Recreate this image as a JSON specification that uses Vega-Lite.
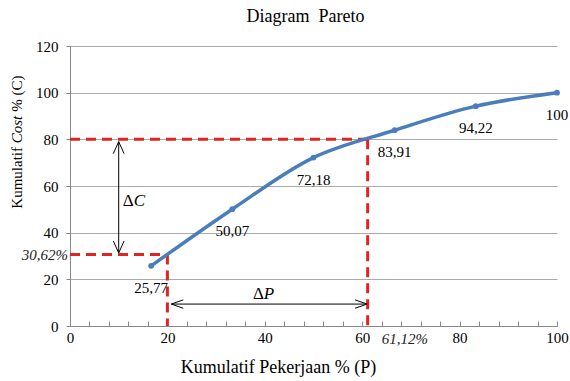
{
  "$schema": "https://vega.github.io/schema/vega-lite/v6.json",
  "width": 487,
  "height": 280,
  "autosize": {"type": "none"},
  "padding": {"left": 70, "top": 46, "right": 13, "bottom": 55},
  "background": "white",
  "title": {
    "text": "Diagram\u00a0 Pareto",
    "font": "Liberation Serif",
    "fontSize": 18,
    "fontWeight": "normal",
    "color": "black",
    "anchor": "middle",
    "dx": -8,
    "offset": 13
  },
  "resolve": {"axis": {"x": "independent", "y": "independent"}},
  "config": {
    "view": {"stroke": null},
    "font": "Liberation Serif",
    "axis": {
      "labelFont": "Liberation Serif",
      "titleFont": "Liberation Serif",
      "labelFontSize": 15,
      "titleFontSize": 18,
      "titleFontWeight": "normal",
      "labelColor": "black",
      "titleColor": "black",
      "labelFlush": false,
      "domainColor": "#888888",
      "tickColor": "#888888",
      "gridColor": "#ababab"
    }
  },
  "datasets": {
    "pts": [
      {"p": 16.67, "c": 25.77, "label": "25,77"},
      {"p": 33.33, "c": 50.07, "label": "50,07"},
      {"p": 50.0, "c": 72.18, "label": "72,18"},
      {"p": 66.67, "c": 83.91, "label": "83,91"},
      {"p": 83.33, "c": 94.22, "label": "94,22"},
      {"p": 100.0, "c": 100.0, "label": "100"}
    ],
    "redlines": [
      {"x": 0, "y": 80, "x2": 61.12, "y2": 80},
      {"x": 61.12, "y": 80, "x2": 61.12, "y2": 0},
      {"x": 0, "y": 30.62, "x2": 20, "y2": 30.62},
      {"x": 20, "y": 30.62, "x2": 20, "y2": 0}
    ],
    "arrows": [
      {"x": 10, "y": 31.3, "x2": 10, "y2": 79},
      {"x": 20.8, "y": 9.4, "x2": 61, "y2": 9.4}
    ],
    "heads": [
      {"x": 10, "y": 79, "dir": "up"},
      {"x": 10, "y": 31.3, "dir": "down"},
      {"x": 20.8, "y": 9.4, "dir": "left"},
      {"x": 61, "y": 9.4, "dir": "right"}
    ],
    "one": [{}]
  },
  "layer": [
    {
      "data": {"name": "redlines"},
      "mark": {"type": "rule", "color": "#e02424", "strokeWidth": 3, "strokeDash": [10, 6]},
      "encoding": {
        "x": {
          "field": "x", "type": "quantitative",
          "scale": {"domain": [0, 100], "nice": false},
          "axis": {
            "orient": "bottom",
            "values": [0,4,8,12,16,20,24,28,32,36,40,44,48,52,56,60,64,68,72,76,80,84,88,92,96,100],
            "labels": false,
            "tickSize": -5,
            "grid": false,
            "title": null
          }
        },
        "y": {
          "field": "y", "type": "quantitative",
          "scale": {"domain": [0, 120], "nice": false},
          "axis": {
            "orient": "left",
            "values": [0, 20, 40, 60, 80, 100, 120],
            "labelFont": "Liberation Serif",
            "labelFontSize": 15,
            "labelOverlap": false,
            "tickSize": 4,
            "labelPadding": 8,
            "grid": true,
            "title": null
          }
        },
        "x2": {"field": "x2"},
        "y2": {"field": "y2"}
      }
    },
    {
      "data": {"name": "pts"},
      "mark": {"type": "line", "interpolate": "catmull-rom", "color": "#4a7ebb", "strokeWidth": 3.5},
      "encoding": {
        "x": {
          "field": "p", "type": "quantitative",
          "axis": {
            "orient": "bottom",
            "values": [0, 20, 40, 60, 80, 100],
            "labelFont": "Liberation Serif",
            "labelFontSize": 15,
            "labelOverlap": false,
            "ticks": false,
            "domain": false,
            "grid": false,
            "labelPadding": 4,
            "title": "Kumulatif Pekerjaan % (P)",
            "titleFont": "Liberation Serif",
            "titleFontSize": 18,
            "titleX": 208,
            "titleY": 46,
            "titleBaseline": "alphabetic"
          }
        },
        "y": {"field": "c", "type": "quantitative", "axis": null}
      }
    },
    {
      "data": {"name": "pts"},
      "mark": {"type": "point", "filled": true, "size": 34, "color": "#4a7ebb", "opacity": 1},
      "encoding": {
        "x": {"field": "p", "type": "quantitative", "axis": null},
        "y": {"field": "c", "type": "quantitative", "axis": null}
      }
    },
    {
      "data": {"name": "pts"},
      "mark": {"type": "text", "dy": 22, "fontSize": 15, "font": "Liberation Serif", "color": "black", "baseline": "middle"},
      "encoding": {
        "x": {"field": "p", "type": "quantitative", "axis": null},
        "y": {"field": "c", "type": "quantitative", "axis": null},
        "text": {"field": "label"}
      }
    },
    {
      "data": {"name": "arrows"},
      "mark": {"type": "rule", "color": "black", "strokeWidth": 1},
      "encoding": {
        "x": {"field": "x", "type": "quantitative", "axis": null},
        "y": {"field": "y", "type": "quantitative", "axis": null},
        "x2": {"field": "x2"},
        "y2": {"field": "y2"}
      }
    },
    {
      "data": {"name": "heads"},
      "mark": {"type": "point", "filled": false, "stroke": "black", "strokeWidth": 1, "size": 576, "opacity": 1},
      "encoding": {
        "x": {"field": "x", "type": "quantitative", "axis": null},
        "y": {"field": "y", "type": "quantitative", "axis": null},
        "shape": {
          "field": "dir", "type": "nominal",
          "scale": {
            "domain": ["up", "down", "left", "right"],
            "range": ["M-0.45,1L0,0L0.45,1", "M-0.45,-1L0,0L0.45,-1", "M1,-0.35L0,0L1,0.35", "M-1,-0.35L0,0L-1,0.35"]
          },
          "legend": null
        }
      }
    },
    {
      "data": {"name": "one"},
      "mark": {"type": "text", "text": "30,62%", "align": "right", "baseline": "middle", "dx": -2, "fontSize": 15, "fontStyle": "italic", "font": "Liberation Serif", "color": "#222222"},
      "encoding": {"x": {"datum": 0, "type": "quantitative", "axis": null}, "y": {"datum": 30.62, "type": "quantitative", "axis": null}}
    },
    {
      "data": {"name": "one"},
      "mark": {"type": "text", "text": "61,12%", "align": "left", "baseline": "middle", "dx": 14, "dy": 13, "fontSize": 15, "fontStyle": "italic", "font": "Liberation Serif", "color": "#222222"},
      "encoding": {"x": {"datum": 61.12, "type": "quantitative", "axis": null}, "y": {"datum": 0, "type": "quantitative", "axis": null}}
    },
    {
      "data": {"name": "one"},
      "mark": {"type": "text", "text": "Δ", "align": "right", "baseline": "middle", "fontSize": 17, "font": "Liberation Serif", "color": "black"},
      "encoding": {"x": {"datum": 13.1, "type": "quantitative", "axis": null}, "y": {"datum": 53.6, "type": "quantitative", "axis": null}}
    },
    {
      "data": {"name": "one"},
      "mark": {"type": "text", "text": "C", "align": "left", "baseline": "middle", "fontSize": 17, "fontStyle": "italic", "font": "Liberation Serif", "color": "black"},
      "encoding": {"x": {"datum": 13.1, "type": "quantitative", "axis": null}, "y": {"datum": 53.6, "type": "quantitative", "axis": null}}
    },
    {
      "data": {"name": "one"},
      "mark": {"type": "text", "text": "Δ", "align": "right", "baseline": "middle", "fontSize": 17, "font": "Liberation Serif", "color": "black"},
      "encoding": {"x": {"datum": 39.8, "type": "quantitative", "axis": null}, "y": {"datum": 13.7, "type": "quantitative", "axis": null}}
    },
    {
      "data": {"name": "one"},
      "mark": {"type": "text", "text": "P", "align": "left", "baseline": "middle", "fontSize": 17, "fontStyle": "italic", "font": "Liberation Serif", "color": "black"},
      "encoding": {"x": {"datum": 39.8, "type": "quantitative", "axis": null}, "y": {"datum": 13.7, "type": "quantitative", "axis": null}}
    },
    {
      "data": {"name": "one"},
      "mark": {"type": "text", "text": "Kumulatif", "angle": 270, "align": "right", "baseline": "middle", "fontSize": 15, "font": "Liberation Serif", "color": "black"},
      "encoding": {"x": {"datum": -10.9, "type": "quantitative", "axis": null}, "y": {"datum": 76.7, "type": "quantitative", "axis": null}}
    },
    {
      "data": {"name": "one"},
      "mark": {"type": "text", "text": "Cost", "angle": 270, "align": "left", "baseline": "middle", "fontSize": 15, "fontStyle": "italic", "font": "Liberation Serif", "color": "black"},
      "encoding": {"x": {"datum": -10.9, "type": "quantitative", "axis": null}, "y": {"datum": 78.3, "type": "quantitative", "axis": null}}
    },
    {
      "data": {"name": "one"},
      "mark": {"type": "text", "text": "% (C)", "angle": 270, "align": "left", "baseline": "middle", "fontSize": 15, "font": "Liberation Serif", "color": "black"},
      "encoding": {"x": {"datum": -10.9, "type": "quantitative", "axis": null}, "y": {"datum": 91.8, "type": "quantitative", "axis": null}}
    }
  ]
}
